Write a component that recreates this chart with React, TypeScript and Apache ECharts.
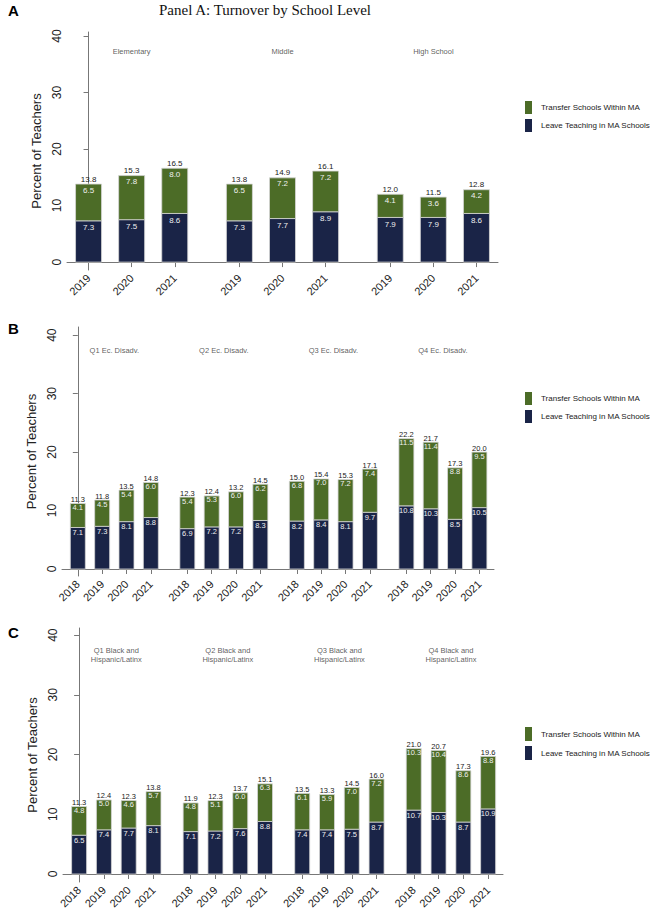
import React, { useEffect, useRef } from "react";
import * as echarts from "echarts";

const transferName = "Transfer Schools Within MA";
const leaveName = "Leave Teaching in MA Schools";
const panelATitle = "Panel A: Turnover by School Level";
const panelLetters = ["A", "B", "C"];
const yAxisName = "Percent of Teachers";
const yTicks = [0, 10, 20, 30, 40];

const aGroups = ["Elementary", "Middle", "High School"];
const aYears = ["2019", "2020", "2021"];
const aLeave = [7.3, 7.5, 8.6, 7.3, 7.7, 8.9, 7.9, 7.9, 8.6];
const aTransfer = [6.5, 7.8, 8.0, 6.5, 7.2, 7.2, 4.1, 3.6, 4.2];
const aTotal = [13.8, 15.3, 16.5, 13.8, 14.9, 16.1, 12.0, 11.5, 12.8];

const bcYears = ["2018", "2019", "2020", "2021"];

const bGroups = ["Q1 Ec. Disadv.", "Q2 Ec. Disadv.", "Q3 Ec. Disadv.", "Q4 Ec. Disadv."];
const bLeave = [7.1, 7.3, 8.1, 8.8, 6.9, 7.2, 7.2, 8.3, 8.2, 8.4, 8.1, 9.7, 10.8, 10.3, 8.5, 10.5];
const bTransfer = [4.1, 4.5, 5.4, 6.0, 5.4, 5.3, 6.0, 6.2, 6.8, 7.0, 7.2, 7.4, 11.5, 11.4, 8.8, 9.5];
const bTotal = [11.3, 11.8, 13.5, 14.8, 12.3, 12.4, 13.2, 14.5, 15.0, 15.4, 15.3, 17.1, 22.2, 21.7, 17.3, 20.0];

const cGroups = [
  "Q1 Black and\nHispanic/Latinx",
  "Q2 Black and\nHispanic/Latinx",
  "Q3 Black and\nHispanic/Latinx",
  "Q4 Black and\nHispanic/Latinx",
];
const cLeave = [6.5, 7.4, 7.7, 8.1, 7.1, 7.2, 7.6, 8.8, 7.4, 7.4, 7.5, 8.7, 10.7, 10.3, 8.7, 10.9];
const cTransfer = [4.8, 5.0, 4.6, 5.7, 4.8, 5.1, 6.0, 6.3, 6.1, 5.9, 7.0, 7.2, 10.3, 10.4, 8.6, 8.8];
const cTotal = [11.3, 12.4, 12.3, 13.8, 11.9, 12.3, 13.7, 15.1, 13.5, 13.3, 14.5, 16.0, 21.0, 20.7, 17.3, 19.6];

const GREEN = "#4c6c27";
const NAVY = "#1a2447";
const FONT = "Liberation Sans, Arial, sans-serif";

const panels = [
  {
    groups: aGroups, years: aYears, leave: aLeave, transfer: aTransfer, total: aTotal,
    grid: { left: 67, top: 32, width: 431, height: 238 },
    xMin: -0.5, xMax: 9.5, yMin: -1.4, yMax: 40.7, barWidth: 26, groupY: 37.2,
    legendTop: 101, itemHeight: 13, letterY: 3, labelFont: 8, distIn: 2, distTop: 1,
  },
  {
    groups: bGroups, years: bcYears, leave: bLeave, transfer: bTransfer, total: bTotal,
    grid: { left: 62, top: 327, width: 432, height: 249 },
    xMin: -0.65, xMax: 17.1, yMin: -1.2, yMax: 41.4, barWidth: 15, groupY: 37.3,
    legendTop: 392, itemHeight: 13, letterY: 321, labelFont: 7.5, distIn: 0, distTop: 0,
  },
  {
    groups: cGroups, years: bcYears, leave: cLeave, transfer: cTransfer, total: cTotal,
    grid: { left: 63, top: 628, width: 440, height: 254 },
    xMin: -0.65, xMax: 17.1, yMin: -1.34, yMax: 41.2, barWidth: 15, groupY: 36.7,
    legendTop: 727, itemHeight: 14, letterY: 625, labelFont: 7.5, distIn: 0, distTop: 0,
  },
];

function buildOption() {
  const grids: any[] = [];
  const xAxes: any[] = [];
  const yAxes: any[] = [];
  const series: any[] = [];
  const legends: any[] = [];
  const graphics: any[] = [];

  panels.forEach((p, pi) => {
    const n = p.years.length;
    const pos: number[] = [];
    const yearOf: Record<string, string> = {};
    p.groups.forEach((_, g) => {
      p.years.forEach((yr, i) => {
        const x = g * (n + 0.5) + i;
        pos.push(x);
        yearOf[x.toFixed(2)] = yr;
      });
    });

    grids.push({ ...p.grid, containLabel: false });
    xAxes.push({
      type: "value", gridIndex: pi, min: p.xMin, max: p.xMax,
      splitLine: { show: false },
      axisLine: { show: true, lineStyle: { color: "#777", width: 1 } },
      axisTick: { show: true, customValues: pos, length: 5, lineStyle: { color: "#777" } },
      axisLabel: {
        customValues: pos, rotate: 45, fontSize: 11, color: "#222", fontFamily: FONT, margin: 6,
        formatter: (v: number) => yearOf[Number(v).toFixed(2)] ?? "",
      },
    });
    yAxes.push({
      type: "value", gridIndex: pi, min: p.yMin, max: p.yMax,
      name: yAxisName, nameLocation: "middle", nameRotate: 90, nameGap: 20,
      nameTextStyle: { fontSize: 13, color: "#222", fontFamily: FONT },
      splitLine: { show: false },
      axisLine: { show: true, lineStyle: { color: "#777", width: 1 } },
      axisTick: { show: true, customValues: yTicks, length: 5, lineStyle: { color: "#777" } },
      axisLabel: {
        customValues: yTicks, rotate: 90, fontSize: 12, color: "#222", fontFamily: FONT, margin: 4,
      },
    });

    const font = `${p.labelFont}px ${FONT}`;
    const bw = p.barWidth;

    series.push({
      type: "custom", name: leaveName, xAxisIndex: pi, yAxisIndex: pi,
      itemStyle: { color: NAVY },
      encode: { x: 0, y: 1 },
      data: p.leave.map((v, i) => [pos[i], v]),
      renderItem: (params: any, api: any) => {
        const x = api.value(0);
        const v = api.value(1);
        const top = api.coord([x, v]);
        const bot = api.coord([x, 0]);
        return {
          type: "group",
          children: [
            {
              type: "rect",
              shape: { x: top[0] - bw / 2, y: top[1], width: bw, height: bot[1] - top[1] },
              style: { fill: NAVY, stroke: "#d6d6d6", lineWidth: 0.8 },
            },
            {
              type: "text", x: top[0], y: top[1] + 1 + p.distIn,
              style: { text: v.toFixed(1), font, fill: "#f0f0f0", align: "center", verticalAlign: "top" },
            },
          ],
        };
      },
    });
    series.push({
      type: "custom", name: transferName, xAxisIndex: pi, yAxisIndex: pi,
      itemStyle: { color: GREEN },
      encode: { x: 0, y: 1 },
      data: p.transfer.map((v, i) => [pos[i], p.leave[i], v, p.total[i]]),
      renderItem: (params: any, api: any) => {
        const x = api.value(0);
        const base = api.value(1);
        const v = api.value(2);
        const tot = api.value(3);
        const top = api.coord([x, base + v]);
        const bot = api.coord([x, base]);
        return {
          type: "group",
          children: [
            {
              type: "rect",
              shape: { x: top[0] - bw / 2, y: top[1], width: bw, height: bot[1] - top[1] },
              style: { fill: GREEN, stroke: "#d6d6d6", lineWidth: 0.8 },
            },
            {
              type: "text", x: top[0], y: top[1] + p.distIn,
              style: { text: v.toFixed(1), font, fill: "#f0f0f0", align: "center", verticalAlign: "top" },
            },
            {
              type: "text", x: top[0], y: top[1] - p.distTop,
              style: { text: tot.toFixed(1), font, fill: "#1a1a1a", align: "center", verticalAlign: "bottom" },
            },
          ],
        };
      },
    });
    series.push({
      type: "scatter", xAxisIndex: pi, yAxisIndex: pi, symbolSize: 1,
      itemStyle: { color: "rgba(0,0,0,0)" }, silent: true,
      data: p.groups.map((gname, g) => ({ name: gname, value: [g * (n + 0.5) + (n - 1) / 2, p.groupY] })),
      label: {
        show: true, position: "inside", color: "#333", fontSize: 7.5, lineHeight: 8.5,
        fontFamily: FONT, formatter: "{b}", textBorderWidth: 0,
      },
    });

    legends.push({
      orient: "vertical", left: 525, top: p.legendTop, icon: "rect", padding: 0,
      itemWidth: 7, itemHeight: p.itemHeight, itemGap: 5, itemStyle: { borderWidth: 0 },
      data: [transferName, leaveName], selectedMode: false,
      textStyle: { fontSize: 8, color: "#222", fontFamily: FONT, padding: [0, 0, 0, 4] },
    });

    graphics.push({
      type: "text", left: 8, top: p.letterY,
      style: { text: panelLetters[pi], font: "bold 15px " + FONT, fill: "#000" },
    });
  });

  graphics.push({
    type: "text", x: 265, y: 10,
    style: {
      text: panelATitle, font: "15px 'Liberation Serif', 'Times New Roman', serif",
      fill: "#111", align: "center", verticalAlign: "middle",
    },
  });

  return {
    animation: false,
    backgroundColor: "#ffffff",
    grid: grids,
    xAxis: xAxes,
    yAxis: yAxes,
    legend: legends,
    series,
    graphic: graphics,
  };
}

export default function App() {
  const ref = useRef<HTMLDivElement>(null);
  useEffect(() => {
    if (!ref.current) return;
    const chart = echarts.init(ref.current, null, { renderer: "svg" });
    chart.setOption(buildOption() as any);
    return () => chart.dispose();
  }, []);
  return (
    <div
      ref={ref}
      style={{ position: "absolute", left: 0, top: 0, width: 656, height: 913, background: "#fff" }}
    />
  );
}
